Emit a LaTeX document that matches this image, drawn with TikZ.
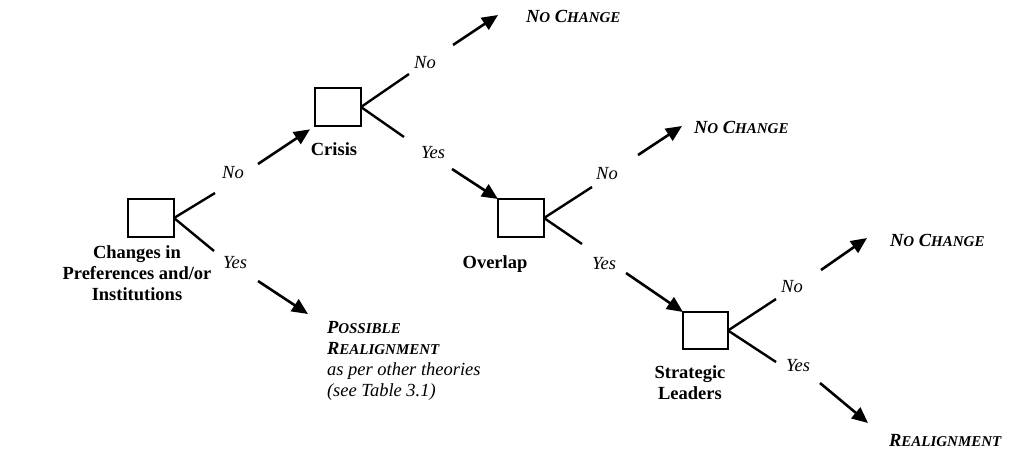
\documentclass[tikz,border=0pt]{standalone}
\usepackage{fontspec}
\setmainfont{Liberation Serif}
\usetikzlibrary{arrows.meta}

% reduced capitals for the outcome labels
\newcommand{\smc}[1]{{\fontsize{15}{17}\selectfont #1}}

\tikzset{
  every node/.style={font=\fontsize{18.5}{21}\selectfont, inner sep=0pt, outer sep=0pt},
  decision/.style={draw, line width=1.6pt, minimum width=46pt, minimum height=38pt},
  branch/.style={line width=2.4pt},
  flow/.style={line width=2.6pt, -{Triangle[length=16pt,width=14pt]}},
  answer/.style={font=\fontsize{18.5}{21}\selectfont\itshape, anchor=base},
  factor/.style={font=\fontsize{18.5}{21}\selectfont\bfseries, align=center},
  outcome/.style={font=\fontsize{18.5}{21}\selectfont\bfseries\itshape, anchor=base west},
}

\begin{document}
\begin{tikzpicture}[x=1pt, y=-1pt]
  \useasboundingbox (0,0) rectangle (1009,448);

  % decision boxes
  \node[decision] (pref)  at (151,218) {};
  \node[decision] (crisis) at (338,107) {};
  \node[decision] (overlap) at (521,218) {};
  \node[decision, minimum width=45pt, minimum height=37pt] (strat) at (705.5,330.5) {};

  % box captions (base = baseline of the last line)
  \node[factor, anchor=base] (preflab) at (137,300) {Changes in\\Preferences and/or\\Institutions};
  \node[factor, anchor=base] (crisislab) at (334,155) {Crisis};
  \node[factor, anchor=base] (overlaplab) at (495,268.5) {Overlap};
  \node[factor, anchor=base] (stratlab) at (690,399) {Strategic\\Leaders};

  % branch ends and arrow starts
  \coordinate (p-up) at (215,193);  \coordinate (p-dn) at (214,251);
  \coordinate (p-upA) at (258,164); \coordinate (p-dnA) at (258,281);
  \coordinate (c-up) at (409,74);   \coordinate (c-dn) at (404,137);
  \coordinate (c-upA) at (453,45);  \coordinate (c-dnA) at (452,169);
  \coordinate (o-up) at (592,187);  \coordinate (o-dn) at (582,244);
  \coordinate (o-upA) at (638,155); \coordinate (o-dnA) at (626,273);
  \coordinate (s-up) at (776,299);  \coordinate (s-dn) at (776,362);
  \coordinate (s-upA) at (821,270); \coordinate (s-dnA) at (820,383);

  % free arrow ends at the outcomes
  \coordinate (t-possible) at (308,314);
  \coordinate (t-nc1) at (498,15);
  \coordinate (t-nc2) at (682,126);
  \coordinate (t-nc3) at (867,238);
  \coordinate (t-real) at (868,423);

  % answers
  \node[answer] (p-no)  at (233,178) {No};
  \node[answer] (p-yes) at (235,268) {Yes};
  \node[answer] (c-no)  at (425,68)  {No};
  \node[answer] (c-yes) at (433,158) {Yes};
  \node[answer] (o-no)  at (607,179) {No};
  \node[answer] (o-yes) at (604,269) {Yes};
  \node[answer] (s-no)  at (792,292) {No};
  \node[answer] (s-yes) at (798,371) {Yes};

  % outcomes
  \node[outcome] (nc1) at (526,22)  {N\smc{O} C\smc{HANGE}};
  \node[outcome] (nc2) at (694,133) {N\smc{O} C\smc{HANGE}};
  \node[outcome] (nc3) at (890,246) {N\smc{O} C\smc{HANGE}};
  \node[outcome] (real) at (889,446) {R\smc{EALIGNMENT}};
  \node[anchor=north west, align=left, font=\fontsize{18.5}{21}\selectfont\itshape] (possible) at (327,321.5)
    {\textbf{P\smc{OSSIBLE}}\\\textbf{R\smc{EALIGNMENT}}\\as per other theories\\(see Table 3.1)};

  % branches out of each box
  \draw[branch] (pref.east) -- (p-up);
  \draw[branch] (pref.east) -- (p-dn);
  \draw[branch] (crisis.east) -- (c-up);
  \draw[branch] (crisis.east) -- (c-dn);
  \draw[branch] (overlap.east) -- (o-up);
  \draw[branch] (overlap.east) -- (o-dn);
  \draw[branch] (strat.east) -- (s-up);
  \draw[branch] (strat.east) -- (s-dn);

  % arrows on to the next step
  \draw[flow, shorten >=6pt] (p-upA) -- (crisis.south west);
  \draw[flow] (p-dnA) -- (t-possible);
  \draw[flow] (c-upA) -- (t-nc1);
  \draw[flow] (c-dnA) -- (overlap.north west);
  \draw[flow] (o-upA) -- (t-nc2);
  \draw[flow] (o-dnA) -- (strat.north west);
  \draw[flow] (s-upA) -- (t-nc3);
  \draw[flow] (s-dnA) -- (t-real);
\end{tikzpicture}
\end{document}
